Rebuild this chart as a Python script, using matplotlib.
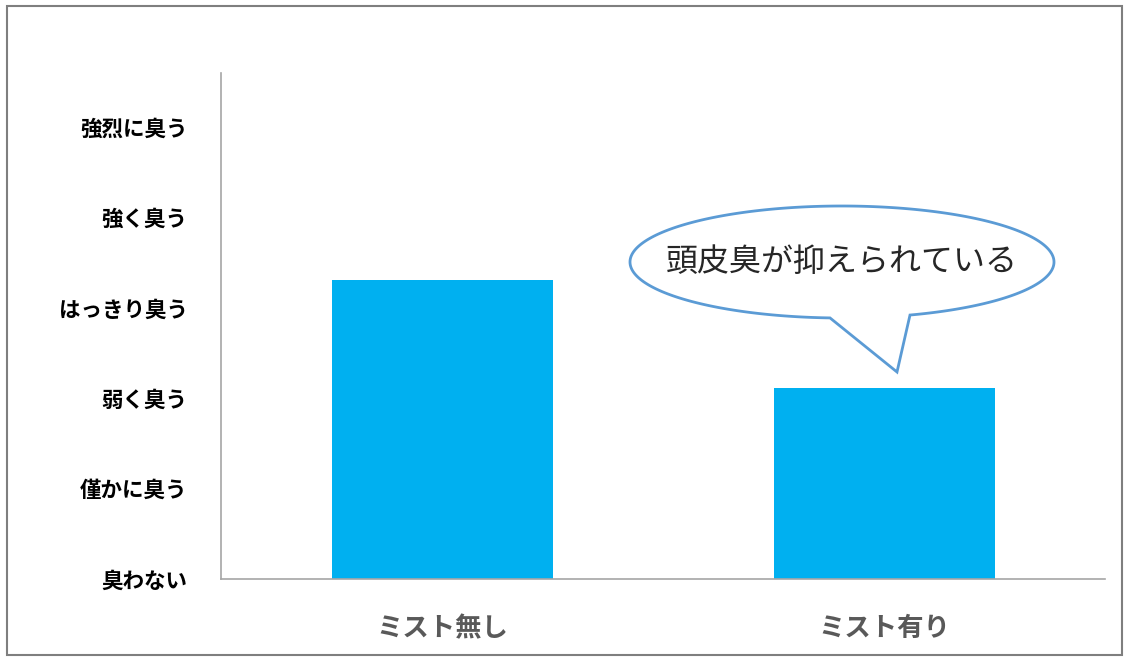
import matplotlib.pyplot as plt
import numpy as np
from matplotlib.patches import Polygon, Rectangle

plt.rcParams['font.family'] = ['Noto Sans CJK JP', 'DejaVu Sans']

# data
categories = ['ミスト無し', 'ミスト有り']
values = [3.31, 2.11]
levels = ['臭わない', '僅かに臭う', '弱く臭う', 'はっきり臭う', '強く臭う', '強烈に臭う']
callout_text = '頭皮臭が抑えられている'

W, H = 1128, 657
fig = plt.figure(figsize=(W / 100, H / 100), dpi=100)
ax = fig.add_axes([221 / W, 1 - 579 / H, (1105 - 221) / W, (579 - 73) / H])

x = np.arange(len(categories))
ax.bar(x, values, width=0.5, color='#00B0F0', zorder=2)

ax.set_xlim(-0.5, 1.5)
ax.set_ylim(0, 5.6)
ax.set_yticks(range(len(levels)))
ax.set_yticklabels(levels, fontsize=15.5, fontweight='bold', color='black')
ax.set_xticks(x)
ax.set_xticklabels(categories, fontsize=19, fontweight='bold', color='#595959')
ax.tick_params(axis='y', length=0, pad=24)
ax.tick_params(axis='x', length=0, pad=26)

for s in ['top', 'right']:
    ax.spines[s].set_visible(False)
for s in ['left', 'bottom']:
    ax.spines[s].set_color('#A6A6A6')
    ax.spines[s].set_linewidth(1.2)

# outer border
fig.patches.append(Rectangle((7 / W, 1 - 655 / H), (1122 - 7) / W, (655 - 6) / H,
                             transform=fig.transFigure, fill=False,
                             edgecolor='#7F7F7F', linewidth=1.5))

# speech bubble (figure pixels, y up)
cx, cy, a, b = 842, H - 262, 212, 56
t_left = -np.pi / 2 - np.arcsin((cx - 830) / a)
t_right = -np.arccos((910 - cx) / a)
t = np.linspace(t_right, t_left + 2 * np.pi, 300)
px = cx + a * np.cos(t)
py = cy + b * np.sin(t)
pts = np.column_stack([np.append(px, 897), np.append(py, H - 372)])
pts[:, 0] /= W
pts[:, 1] /= H
fig.patches.append(Polygon(pts, closed=True, transform=fig.transFigure,
                           facecolor='white', edgecolor='#5B9BD5', linewidth=2))
fig.text(cx / W, cy / H, callout_text, ha='center', va='center',
         fontsize=23, color='#262626')

fig.savefig('out.png', dpi=100)
